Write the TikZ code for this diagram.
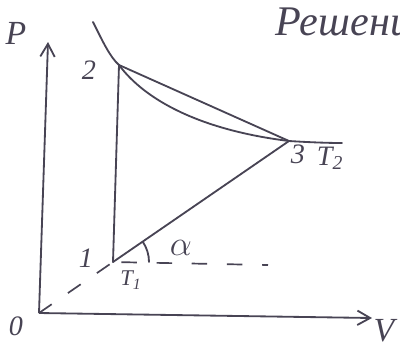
\documentclass[tikz,border=0pt]{standalone}
\usepackage{fontspec}
\setmainfont{Liberation Serif}
\usetikzlibrary{arrows.meta}
\definecolor{ink}{RGB}{72,68,84}
\tikzset{
  ln/.style={ink, line width=1.3pt, line cap=round},
  axarr/.style={ink, line width=1.3pt, -{Straight Barb[length=3.2mm, width=3.6mm]}},
  dsh/.style={ink, line width=1.2pt, dash pattern=on 11pt off 14pt},
  lab/.style={text=ink, font=\itshape\fontsize{20}{22}\selectfont, inner sep=1pt},
  pt/.style={inner sep=0pt, minimum size=0pt},
}

\begin{document}
\begin{tikzpicture}[x=0.025cm, y=-0.025cm]
        \useasboundingbox (0,0) rectangle (400,351);
        % points of the cycle
        \coordinate (O) at (39,313);
        \node[pt] (p1) at (113,262) {};
        \node[pt] (p2) at (119,65) {};
        \node[pt] (p3) at (289,141) {};
        \coordinate (ptop) at (48,42);
        \coordinate (pend) at (372,318);
        \coordinate (hend) at (268,265);
        % axes
        \draw[axarr] (O) -- (ptop);
        \draw[axarr] (O) -- (pend);
        % isotherm T2
        \draw[ln] (93,22) .. controls (103,42) and (110,57) .. (p2.center)
                  .. controls (145,100) and (200,130) .. (p3.center)
                  .. controls (305,142) and (325,143) .. (342,143);
        % cycle
        \draw[ln] (p1.center) -- (p2.center);
        \draw[ln] (p2.center) -- (p3.center);
        \draw[ln] (p1.center) -- (p3.center);
        \draw[dsh] (O) -- (p1.center);
        \draw[dsh, dash phase=-6pt] (p1.center) -- (hend);
        \draw[ln] ([shift={(0:36)}]p1.center) arc[start angle=0, end angle=-34, radius=36];
        % labels
        \node[lab, font=\itshape\fontsize{24}{26}\selectfont] (lP) at (16,33) {P};
        \node[lab] (lO) at (16,326) {0};
        \node[lab, font=\itshape\fontsize{24}{26}\selectfont] (lV) at (384,331) {V};
        \node[lab] (l1) at (86,258) {1};
        \node[lab] (l2) at (89,70) {2};
        \node[lab] (l3) at (298,154) {3};
        \node[lab, font=\itshape\fontsize{16}{18}\selectfont] (lT1) at (131,280) {T\textsubscript{1}};
        \node[lab] (lT2) at (330,158) {T\textsubscript{2}};
        \node[lab, font=\itshape\fontsize{24}{26}\selectfont] (la) at (181,248) {$\alpha$};
        \node[lab, font=\itshape\fontsize{30}{32}\selectfont, anchor=west] (lsol) at (274,22) {Решение};
\end{tikzpicture}
\end{document}
